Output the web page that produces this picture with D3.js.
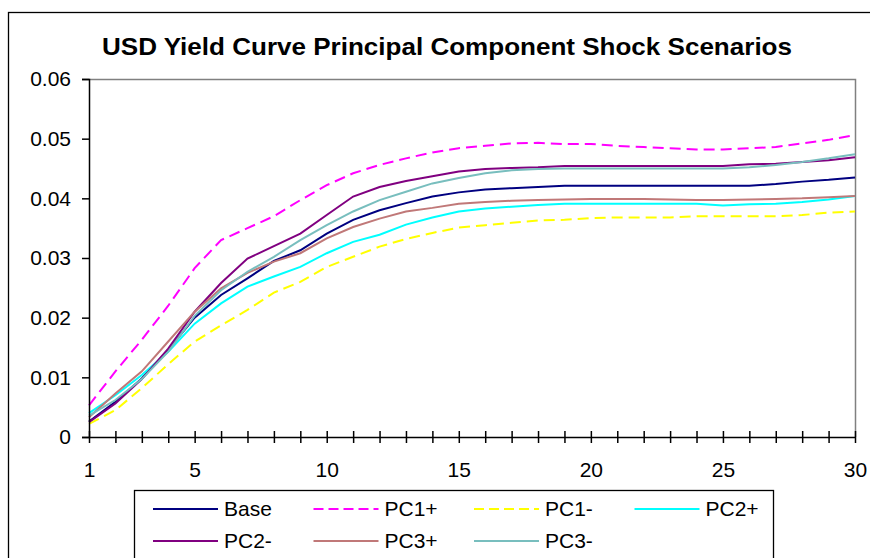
<!DOCTYPE html>
<html><head><meta charset="utf-8">
<script src="https://cdn.jsdelivr.net/npm/d3@7"></script>
<style>body{margin:0;background:#fff}text{font-family:"Liberation Sans",Arial,sans-serif}</style>
</head><body><svg id="c" width="870" height="558"></svg>
<script>
const maturities = d3.range(1, 31);
const base = [0.0026,0.0059,0.0098,0.0146,0.0200,0.0238,0.0266,0.0295,0.0313,0.0341,0.0364,0.0380,0.0392,0.0403,0.0410,0.0415,0.0417,0.0419,0.0421,0.0421,0.0421,0.0421,0.0421,0.0421,0.0421,0.0421,0.0424,0.0428,0.0431,0.0435];
const pc1Plus = [0.0053,0.0110,0.0163,0.0220,0.0283,0.0330,0.0350,0.0370,0.0397,0.0422,0.0442,0.0456,0.0467,0.0477,0.0484,0.0488,0.0492,0.0493,0.0491,0.0491,0.0488,0.0486,0.0484,0.0482,0.0482,0.0484,0.0486,0.0492,0.0498,0.0506];
const pc1Minus = [0.0022,0.0045,0.0082,0.0122,0.0160,0.0187,0.0213,0.0242,0.0260,0.0285,0.0302,0.0319,0.0332,0.0342,0.0351,0.0355,0.0359,0.0363,0.0364,0.0367,0.0368,0.0368,0.0368,0.0370,0.0370,0.0370,0.0370,0.0372,0.0376,0.0378];
const pc2Plus = [0.0040,0.0070,0.0104,0.0143,0.0190,0.0224,0.0252,0.0269,0.0285,0.0308,0.0327,0.0339,0.0356,0.0368,0.0378,0.0383,0.0386,0.0389,0.0391,0.0391,0.0391,0.0391,0.0391,0.0391,0.0388,0.0390,0.0391,0.0394,0.0398,0.0404];
const pc2Minus = [0.0025,0.0056,0.0097,0.0148,0.0210,0.0258,0.0299,0.0320,0.0341,0.0372,0.0403,0.0419,0.0429,0.0437,0.0445,0.0449,0.0451,0.0452,0.0454,0.0454,0.0454,0.0454,0.0454,0.0454,0.0454,0.0457,0.0458,0.0461,0.0464,0.0469];
const pc3Plus = [0.0033,0.0073,0.0110,0.0160,0.0210,0.0249,0.0275,0.0294,0.0308,0.0333,0.0352,0.0366,0.0378,0.0384,0.0391,0.0394,0.0396,0.0397,0.0398,0.0399,0.0399,0.0399,0.0398,0.0397,0.0397,0.0398,0.0399,0.0400,0.0402,0.0404];
const pc3Minus = [0.0036,0.0062,0.0097,0.0143,0.0203,0.0246,0.0277,0.0302,0.0330,0.0355,0.0378,0.0397,0.0411,0.0425,0.0434,0.0442,0.0447,0.0449,0.0450,0.0450,0.0450,0.0450,0.0450,0.0450,0.0450,0.0452,0.0456,0.0461,0.0467,0.0474];
const seriesNames = ["Base","PC1+","PC1-","PC2+","PC2-","PC3+","PC3-"];
const seriesColors = ["#000080","#FF00FF","#FFFF00","#00FFFF","#800080","#C07878","#78BEBE"];
const seriesDashed = [false,true,true,false,false,false,false];
const xTickLabels = [1,5,10,15,20,25,30];
const yTickValues = [0,0.01,0.02,0.03,0.04,0.05,0.06];
const titleText = "USD Yield Curve Principal Component Shock Scenarios";

const seriesValues = [base, pc1Plus, pc1Minus, pc2Plus, pc2Minus, pc3Plus, pc3Minus];
const series = seriesNames.map((n,i)=>({name:n,color:seriesColors[i],dashed:seriesDashed[i],values:seriesValues[i]}));

const svg = d3.select("#c");
const L=89, R=855, T=79, B=437;
const FONT = "'Liberation Sans',Arial,sans-serif";
const x = d3.scaleLinear().domain([1,30]).range([L,R]);
const y = d3.scaleLinear().domain([0,0.06]).range([B,T]);

// outer chart border
svg.append("rect").attr("x",8.5).attr("y",12.5).attr("width",900).attr("height",600)
  .attr("fill","none").attr("stroke","#000").attr("stroke-width",1.3);

// title
svg.append("text").attr("x",447).attr("y",55).attr("text-anchor","middle")
  .attr("font-size",24).attr("font-weight","bold")
  .attr("textLength",690).attr("lengthAdjust","spacingAndGlyphs").text(titleText);

// plot area border top & right (gray)
svg.append("path").attr("d",`M${L},${T+0.5}H${R+0.5}V${B}`).attr("fill","none").attr("stroke","#808080").attr("stroke-width",1.5);

// lines
const line = d3.line().x((d,i)=>x(maturities[i])).y(d=>y(d));
svg.append("g").selectAll("path").data(series).join("path")
  .attr("d",d=>line(d.values)).attr("fill","none").attr("stroke",d=>d.color)
  .attr("stroke-width",2).attr("stroke-dasharray",d=>d.dashed?"11,6":null);

// y axis
const yAxis = svg.append("g").attr("transform",`translate(${L},0)`)
  .call(d3.axisLeft(y).tickValues(yTickValues).tickSize(7).tickPadding(11)
    .tickFormat(d=>d===0?"0":d3.format(".2f")(d)));
yAxis.selectAll("text").attr("font-size",21).attr("fill","#000").style("font-family",FONT);
yAxis.selectAll("line,path").attr("stroke","#000").attr("stroke-width",1.5);

// x axis
const xAxis = svg.append("g").attr("transform",`translate(0,${B})`)
  .call(d3.axisBottom(x).tickValues(maturities).tickSize(6).tickPadding(19)
    .tickFormat(d=>xTickLabels.includes(d)?String(d):""));
xAxis.selectAll(".tick line").attr("y1",-6);
xAxis.selectAll("text").attr("font-size",21).attr("fill","#000").style("font-family",FONT);
xAxis.selectAll("line,path").attr("stroke","#000").attr("stroke-width",1.5);
xAxis.select(".domain").attr("d",`M${L},0.5H${R}`);

// legend
const lg = svg.append("g");
lg.append("rect").attr("x",134.5).attr("y",490.5).attr("width",639).attr("height",120)
  .attr("fill","#fff").attr("stroke","#000").attr("stroke-width",1.3);
const items = lg.selectAll("g.item").data(series).join("g").attr("class","item")
  .attr("transform",(d,i)=>`translate(${153+(i%4)*160.5},${i<4?509:541})`);
items.append("line").attr("x1",0).attr("x2",65).attr("stroke",d=>d.color).attr("stroke-width",2)
  .attr("stroke-dasharray",d=>d.dashed?"10,5":null);
items.append("text").attr("x",71).attr("y",0).attr("dy","0.35em").attr("font-size",21).text(d=>d.name);
</script></body></html>
